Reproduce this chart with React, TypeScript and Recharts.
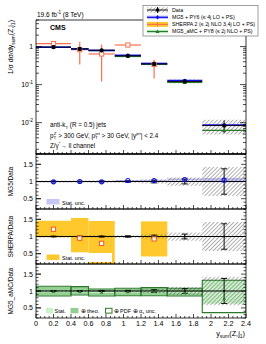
import React from "react";
import {
  ComposedChart,
  Scatter,
  XAxis,
  YAxis,
  ErrorBar,
  ReferenceArea,
  ReferenceLine,
} from "recharts";

const FONT = '"Liberation Sans", Arial, Helvetica, sans-serif';

// binning in y_sum(Z,j1)
const binLow = [0, 0.4, 0.6, 0.9, 1.2, 1.5, 1.9];
const binHigh = [0.4, 0.6, 0.9, 1.2, 1.5, 1.9, 2.4];
const binCenter = [0.2, 0.5, 0.75, 1.05, 1.35, 1.7, 2.15];

// measured 1/sigma dsigma/dy (relative uncertainties)
const dataXs = [0.97, 0.87, 0.8, 0.57, 0.35, 0.121, 0.0084];
const dataStatRel = [0.01, 0.01, 0.015, 0.02, 0.04, 0.07, 0.37];
const dataTotRel = [0.03, 0.03, 0.035, 0.04, 0.06, 0.12, 0.42];

// MG5 + PY6
const mg5Xs = [0.96, 0.87, 0.79, 0.59, 0.36, 0.128, 0.0087];
const mg5Ratio = [0.99, 1.0, 0.99, 1.03, 1.03, 1.06, 1.04];
const mg5RatioStat = [0.012, 0.012, 0.012, 0.015, 0.02, 0.03, 0.06];

// SHERPA 2
const sherpaXs = [1.2, 0.83, 0.64, 1.1, 0.34, null, null];
const sherpaLow = [1.17, 0.34, 0.12, 1.08, 0.144, null, null];
const sherpaHigh = [1.23, 1.35, 1.13, 1.12, 0.45, null, null];
const sherpaRatio = [1.21, 0.95, 0.8, null, 0.93, null, null];
const sherpaRatioLow = [0.98, 0.54, 0.15, null, 0.42, null, null];
const sherpaRatioHigh = [1.46, 1.54, 1.45, null, 1.44, null, null];

// MG5_aMC + PY8
const amcXs = [0.95, 0.86, 0.79, 0.55, 0.34, 0.114, 0.0063];
const amcRatio = [0.98, 0.98, 0.96, 0.97, 0.98, 0.95, 0.77];
const amcStatLow = [0.96, 0.96, 0.94, 0.95, 0.96, 0.93, 0.64];
const amcStatHigh = [1.0, 1.0, 0.98, 0.99, 1.0, 0.97, 1.32];
const amcTheoLow = [0.86, 0.89, 0.86, 0.87, 0.87, 0.86, 0.64];
const amcTheoHigh = [1.13, 1.12, 1.05, 1.07, 1.09, 1.07, 1.32];
const amcPdfLow = [0.85, 0.88, 0.85, 0.86, 0.86, 0.85, 0.36];
const amcPdfHigh = [1.14, 1.13, 1.06, 1.08, 1.1, 1.08, 1.32];

// axes
const xMajorTicks = [0, 0.2, 0.4, 0.6, 0.8, 1, 1.2, 1.4, 1.6, 1.8, 2, 2.2, 2.4];
const xTickLabels = ["0", "0.2", "0.4", "0.6", "0.8", "1", "1.2", "1.4", "1.6", "1.8", "2", "2.2", "2.4"];
const logMajorTicks = [0.01, 0.1, 1];
const logTickExp = ["-2", "-1", ""];
const ratioMajorTicks = [0.5, 1, 1.5];
const ratioTickLabels = ["0.5", "1", "1.5"];
const LOG_DOMAIN = [0.0015, 5];
const RATIO_DOMAIN = [0.2, 1.8];

const xTicks: number[] = [];
for (let i = 0; i <= 48; i++) xTicks.push(Math.round(i * 5) / 100);
const logTicks: number[] = [];
[0.001, 0.01, 0.1, 1].forEach((d) => {
  for (let k = 1; k <= 9; k++) {
    const v = +(d * k).toPrecision(3);
    if (v >= LOG_DOMAIN[0] && v <= LOG_DOMAIN[1]) logTicks.push(v);
  }
});
const ratioTicks: number[] = [];
for (let i = 2; i <= 18; i++) ratioTicks.push(i / 10);

const BLUE = "#1010ee";
const BLUE_BAND = "#c6c6f5";
const SHERPA_LINE = "#ff6e4e";
const SHERPA_BAND = "#ffc82c";
const GREEN = "#2b7a2b";
const GREEN_THEO = "#93cf93";
const GREEN_STAT = "#c9f2c9";

const findTick = (arr: number[], v: any) => arr.findIndex((t) => Math.abs(t - Number(v)) < 1e-3);

// rows
const xErr = (i: number) => [binCenter[i] - binLow[i], binHigh[i] - binCenter[i]];
const dataMain = binCenter.map((x, i) => ({
  x,
  y: dataXs[i],
  ex: xErr(i),
  ey: [dataXs[i] * dataStatRel[i], dataXs[i] * dataStatRel[i]],
}));
const mg5Main = binCenter.map((x, i) => ({ x, y: mg5Xs[i], ex: xErr(i) }));
const amcMain = binCenter.map((x, i) => ({ x, y: amcXs[i], ex: xErr(i) }));
const sherpaMain = binCenter
  .map((x, i) =>
    sherpaXs[i] == null
      ? null
      : {
          x,
          y: sherpaXs[i] as number,
          ex: xErr(i),
          ey: [(sherpaXs[i] as number) - (sherpaLow[i] as number), (sherpaHigh[i] as number) - (sherpaXs[i] as number)],
        }
  )
  .filter(Boolean) as any[];

const dataRatioRows = binCenter.map((x, i) => ({ x, y: 1, ey: [dataStatRel[i], dataStatRel[i]] }));
const mg5RatioRows = binCenter.map((x, i) => ({ x, y: mg5Ratio[i] }));
const sherpaRatioRows = binCenter
  .map((x, i) => (sherpaRatio[i] == null ? null : { x, y: sherpaRatio[i] }))
  .filter(Boolean) as any[];
const amcRatioRows = binCenter.map((x, i) => ({ x, y: amcRatio[i] }));

// tick renderers (ticks point into the frame)
const xTickBottom = (labels: boolean) => (p: any) => {
  const idx = findTick(xMajorTicks, p.payload.value);
  const major = idx >= 0;
  return (
    <g>
      <line x1={p.x} x2={p.x} y1={p.y} y2={p.y - (major ? 4 : 2)} stroke="#000" strokeWidth={0.7} />
      {labels && major && (
        <text x={p.x} y={p.y + 7.5} textAnchor="middle" fontSize={7.2} fontFamily={FONT} fill="#000">
          {xTickLabels[idx]}
        </text>
      )}
    </g>
  );
};
const xTickTop = (p: any) => {
  const major = findTick(xMajorTicks, p.payload.value) >= 0;
  return <line x1={p.x} x2={p.x} y1={p.y} y2={p.y + (major ? 4 : 2)} stroke="#000" strokeWidth={0.7} />;
};
const logTickLeft = (p: any) => {
  const idx = findTick(logMajorTicks, p.payload.value);
  const major = idx >= 0;
  return (
    <g>
      <line x1={p.x} x2={p.x + (major ? 6 : 3)} y1={p.y} y2={p.y} stroke="#000" strokeWidth={0.7} />
      {major && (
        <text x={p.x - 3} y={p.y + 2.5} textAnchor="end" fontSize={6.8} fontFamily={FONT} fill="#000">
          {logTickExp[idx] === "" ? (
            "1"
          ) : (
            <>
              <tspan>10</tspan>
              <tspan fontSize={4.8} dy={-3}>
                {logTickExp[idx]}
              </tspan>
            </>
          )}
        </text>
      )}
    </g>
  );
};
const logTickRight = (p: any) => {
  const major = findTick(logMajorTicks, p.payload.value) >= 0;
  return <line x1={p.x} x2={p.x - (major ? 6 : 3)} y1={p.y} y2={p.y} stroke="#000" strokeWidth={0.7} />;
};
// ratio axes: tick lines only, labels are added in the overlay (recharts drops them here)
const ratioTickLeft = (p: any) => {
  const major = findTick(ratioMajorTicks, p.payload.value) >= 0;
  return <line x1={p.x} x2={p.x + (major ? 5 : 2.5)} y1={p.y} y2={p.y} stroke="#000" strokeWidth={0.7} />;
};
const ratioTickRight = (p: any) => {
  const major = findTick(ratioMajorTicks, p.payload.value) >= 0;
  return <line x1={p.x} x2={p.x - (major ? 5 : 2.5)} y1={p.y} y2={p.y} stroke="#000" strokeWidth={0.7} />;
};

const keepAll = { interval: 0, minTickGap: -1000, tickFormatter: () => "" } as any;

// axes of 1px thickness (0 makes recharts skip them)
function axes(log: boolean, xLabels: boolean, bottomWidth = 0.8) {
  const line = { stroke: "#000", strokeWidth: 0.8 };
  const ydom = log ? LOG_DOMAIN : RATIO_DOMAIN;
  const yt = log ? logTicks : ratioTicks;
  const scaleProp: any = log ? { scale: "log" } : {};
  return [
    <XAxis key="xb" xAxisId={0} type="number" dataKey="x" domain={[0, 2.4]} allowDataOverflow ticks={xTicks} {...keepAll}
      height={1} tickSize={0} tickMargin={0} tickLine={false} axisLine={{ stroke: "#000", strokeWidth: bottomWidth }}
      tick={xTickBottom(xLabels)} />,
    <XAxis key="xt" xAxisId="t" orientation="top" type="number" domain={[0, 2.4]} allowDataOverflow ticks={xTicks}
      {...keepAll} height={1} tickSize={0} tickMargin={0} tickLine={false} axisLine={line} tick={xTickTop} />,
    <YAxis key="yl" yAxisId={0} type="number" dataKey="y" {...scaleProp} domain={ydom} allowDataOverflow ticks={yt}
      {...keepAll} width={36} tickSize={0} tickMargin={0} tickLine={false} axisLine={line}
      tick={log ? logTickLeft : ratioTickLeft} />,
    <YAxis key="yr" yAxisId="r" orientation="right" type="number" {...scaleProp} domain={ydom} allowDataOverflow
      ticks={yt} {...keepAll} width={1} tickSize={0} tickMargin={0} tickLine={false} axisLine={line}
      tick={log ? logTickRight : ratioTickRight} />,
  ];
}

const dot = (r: number, fill: string, stroke = fill, sw = 0) => (p: any) => (
  <circle cx={p.cx} cy={p.cy} r={r} fill={fill} stroke={stroke} strokeWidth={sw} />
);
const square = (s: number, color: string) => (p: any) => (
  <rect x={p.cx - s / 2} y={p.cy - s / 2} width={s} height={s} fill="#fff" stroke={color} strokeWidth={1} />
);
const tri = (s: number, color: string) => (p: any) => (
  <path d={`M${p.cx},${p.cy - s} L${p.cx + s},${p.cy + s * 0.75} L${p.cx - s},${p.cy + s * 0.75} Z`} fill={color} />
);

const W = 266;
const H = 344;
const PLOT_LEFT = 36;
const RATIO_PANELS = [
  [154, 209],
  [209, 264],
  [264, 318],
];
const layer: React.CSSProperties = { position: "absolute", left: 0, top: 0 };
const margin = (top: number, bottom: number) => ({ top: top - 1, right: 19, bottom: H - bottom - 1, left: 0 });

function MainPanel() {
  return (
    <div style={layer}>
      <ComposedChart width={W} height={H} margin={margin(20, 154)}>
        {axes(true, false, 1.6)}
        {binCenter.map((_, i) => (
          <ReferenceArea key={"h" + i} x1={binLow[i]} x2={binHigh[i]} y1={dataXs[i] * (1 - dataTotRel[i])}
            y2={dataXs[i] * (1 + dataTotRel[i])} fill="url(#hatch)" fillOpacity={1} stroke="none" ifOverflow="hidden" />
        ))}
        <Scatter data={sherpaMain} dataKey="y" isAnimationActive={false} shape={square(4.2, SHERPA_LINE)}>
          <ErrorBar dataKey="ex" direction="x" width={0} stroke={SHERPA_LINE} strokeWidth={1.2} isAnimationActive={false} />
          <ErrorBar dataKey="ey" direction="y" width={0} stroke={SHERPA_LINE} strokeWidth={1.2} isAnimationActive={false} />
        </Scatter>
        <Scatter data={amcMain} dataKey="y" isAnimationActive={false} shape={tri(2.2, GREEN)}>
          <ErrorBar dataKey="ex" direction="x" width={0} stroke={GREEN} strokeWidth={1.3} isAnimationActive={false} />
        </Scatter>
        <Scatter data={mg5Main} dataKey="y" isAnimationActive={false} shape={dot(1.8, BLUE)}>
          <ErrorBar dataKey="ex" direction="x" width={0} stroke={BLUE} strokeWidth={1.6} isAnimationActive={false} />
        </Scatter>
        <Scatter data={dataMain} dataKey="y" isAnimationActive={false} shape={dot(2.1, "#000")}>
          <ErrorBar dataKey="ex" direction="x" width={0} stroke="#000" strokeWidth={0.9} isAnimationActive={false} />
          <ErrorBar dataKey="ey" direction="y" width={0} stroke="#000" strokeWidth={0.9} isAnimationActive={false} />
        </Scatter>
      </ComposedChart>
    </div>
  );
}

function dataRatioLayer(key: string) {
  return [
    ...binCenter.map((_, i) => (
      <ReferenceArea key={key + "h" + i} x1={binLow[i]} x2={binHigh[i]} y1={1 - dataTotRel[i]} y2={1 + dataTotRel[i]}
        fill="url(#hatch)" fillOpacity={1} stroke="none" ifOverflow="hidden" />
    )),
    <ReferenceLine key={key + "one"} y={1} stroke="#000" strokeWidth={1} />,
    <Scatter key={key + "d"} data={dataRatioRows} dataKey="y" isAnimationActive={false} shape={dot(1, "#000")}>
      <ErrorBar dataKey="ey" direction="y" width={3} stroke="#000" strokeWidth={0.9} isAnimationActive={false} />
    </Scatter>,
  ];
}

function Mg5Panel() {
  return (
    <div style={layer}>
      <ComposedChart width={W} height={H} margin={margin(154, 209)}>
        {axes(false, false)}
        {binCenter.map((_, i) => (
          <ReferenceArea key={"b" + i} x1={binLow[i]} x2={binHigh[i]} y1={mg5Ratio[i] - mg5RatioStat[i]}
            y2={mg5Ratio[i] + mg5RatioStat[i]} fill={BLUE_BAND} fillOpacity={1} stroke="none" ifOverflow="hidden" />
        ))}
        {dataRatioLayer("m")}
        <Scatter data={mg5RatioRows} dataKey="y" isAnimationActive={false} shape={dot(2, "none", BLUE, 1.1)} />
      </ComposedChart>
    </div>
  );
}

function SherpaPanel() {
  return (
    <div style={layer}>
      <ComposedChart width={W} height={H} margin={margin(209, 264)}>
        {axes(false, false)}
        {binCenter.map((_, i) =>
          sherpaRatio[i] == null ? null : (
            <ReferenceArea key={"b" + i} x1={binLow[i]} x2={binHigh[i]} y1={sherpaRatioLow[i] as number}
              y2={sherpaRatioHigh[i] as number} fill={SHERPA_BAND} fillOpacity={1} stroke="none" ifOverflow="hidden" />
          )
        )}
        {dataRatioLayer("s")}
        <Scatter data={sherpaRatioRows} dataKey="y" isAnimationActive={false} shape={square(4.2, "#f05a28")} />
      </ComposedChart>
    </div>
  );
}

function AmcPanel() {
  return (
    <div style={layer}>
      <ComposedChart width={W} height={H} margin={margin(264, 318)}>
        {axes(false, true)}
        {binCenter.map((_, i) => (
          <ReferenceArea key={"t" + i} x1={binLow[i]} x2={binHigh[i]} y1={amcTheoLow[i]} y2={amcTheoHigh[i]}
            fill={GREEN_THEO} fillOpacity={1} stroke="none" ifOverflow="hidden" />
        ))}
        {binCenter.map((_, i) => (
          <ReferenceArea key={"s" + i} x1={binLow[i]} x2={binHigh[i]} y1={amcStatLow[i]} y2={amcStatHigh[i]}
            fill={GREEN_STAT} fillOpacity={1} stroke="none" ifOverflow="hidden" />
        ))}
        {binCenter.map((_, i) => (
          <ReferenceArea key={"p" + i} x1={binLow[i]} x2={binHigh[i]} y1={amcPdfLow[i]} y2={amcPdfHigh[i]}
            fill="none" fillOpacity={0} stroke={GREEN} strokeWidth={1.1} ifOverflow="hidden" />
        ))}
        {dataRatioLayer("a")}
        <Scatter data={amcRatioRows} dataKey="y" isAnimationActive={false} shape={tri(1.8, GREEN)} />
      </ComposedChart>
    </div>
  );
}

// ratio tick labels, placed with the same linear mapping as the ratio axes
function RatioTickLabels() {
  const [d0, d1] = RATIO_DOMAIN;
  return (
    <>
      {RATIO_PANELS.map(([top, bottom], p) =>
        ratioMajorTicks.map((v, i) => {
          const y = top + ((d1 - v) / (d1 - d0)) * (bottom - top);
          return (
            <g key={p + "-" + i}>
              <line x1={PLOT_LEFT} x2={PLOT_LEFT + 5} y1={y} y2={y} stroke="#000" strokeWidth={0.7} />
              <text x={PLOT_LEFT - 3} y={y + 2.5} textAnchor="end" fontSize={7} fontFamily={FONT} fill="#000">
                {ratioTickLabels[i]}
              </text>
            </g>
          );
        })
      )}
    </>
  );
}

function Overlay() {
  const t = { fontFamily: FONT, fill: "#000" } as any;
  const rows = [10, 17.3, 24.4, 31.5];
  const sx0 = 147;
  const sx1 = 168;
  const sc = (sx0 + sx1) / 2;
  return (
    <svg width={W} height={H} style={{ ...layer, pointerEvents: "none" }}>
      <text x={37} y={16.8} fontSize={6.5} {...t}>
        19.6 fb<tspan fontSize={4.6} dy={-2.8}>-1</tspan>
        <tspan dy={2.8}> (8 TeV)</tspan>
      </text>
      <text x={50} y={29.5} fontSize={7} fontWeight="bold" {...t}>CMS</text>

      {/* legend */}
      <rect x={143} y={5.5} width={115} height={30.5} fill="#fff" stroke="#777" strokeWidth={0.7} />
      <rect x={sx0} y={rows[0] - 2.6} width={sx1 - sx0} height={5.2} fill="url(#hatch)" />
      <line x1={sx0} x2={sx1} y1={rows[0]} y2={rows[0]} stroke="#000" strokeWidth={0.9} />
      <line x1={sc} x2={sc} y1={rows[0] - 3} y2={rows[0] + 3} stroke="#000" strokeWidth={0.9} />
      <circle cx={sc} cy={rows[0]} r={1.8} fill="#000" />
      <rect x={sx0} y={rows[1] - 1.8} width={sx1 - sx0} height={3.6} fill={BLUE_BAND} />
      <line x1={sx0} x2={sx1} y1={rows[1]} y2={rows[1]} stroke={BLUE} strokeWidth={1.3} />
      <line x1={sc} x2={sc} y1={rows[1] - 2} y2={rows[1] + 2} stroke={BLUE} strokeWidth={0.9} />
      <circle cx={sc} cy={rows[1]} r={1.5} fill={BLUE} />
      <rect x={sx0} y={rows[2] - 2.5} width={sx1 - sx0} height={5} fill={SHERPA_BAND} />
      <line x1={sx0} x2={sx1} y1={rows[2]} y2={rows[2]} stroke={SHERPA_LINE} strokeWidth={1.2} />
      <line x1={sc} x2={sc} y1={rows[2] - 2.5} y2={rows[2] + 2.5} stroke={SHERPA_LINE} strokeWidth={0.9} />
      <rect x={sx0} y={rows[3] - 1.8} width={sx1 - sx0} height={3.6} fill={GREEN_STAT} />
      <line x1={sx0} x2={sx1} y1={rows[3]} y2={rows[3]} stroke={GREEN} strokeWidth={1.2} />
      <path d={`M${sc},${rows[3] - 2} L${sc + 2},${rows[3] + 1.5} L${sc - 2},${rows[3] + 1.5} Z`} fill={GREEN} />
      <text x={172} y={rows[0] + 1.9} fontSize={5.3} {...t}>Data</text>
      <text x={172} y={rows[1] + 1.9} fontSize={5.3} {...t}>MG5 + PY6 (≤ 4j LO + PS)</text>
      <text x={172} y={rows[2] + 1.9} fontSize={5.3} {...t}>SHERPA 2 (≤ 2j NLO 3,4j LO + PS)</text>
      <text x={172} y={rows[3] + 1.9} fontSize={5.3} {...t}>MG5_aMC + PY8 (≤ 2j NLO + PS)</text>

      {/* selection text */}
      <text x={50} y={127} fontSize={6.3} {...t}>
        anti-k<tspan fontSize={4.4} dy={1.6}>T</tspan>
        <tspan dy={-1.6}> (R = 0.5) jets</tspan>
      </text>
      <text x={50} y={137.5} fontSize={6.3} {...t}>
        p<tspan fontSize={4.4} dy={1.6}>T</tspan>
        <tspan fontSize={4.4} dy={-4.4} dx={-2.4}>Z</tspan>
        <tspan dy={2.8}> &gt; 300 GeV, p</tspan>
        <tspan fontSize={4.4} dy={1.6}>T</tspan>
        <tspan fontSize={4.4} dy={-4.4} dx={-2.4}>jet</tspan>
        <tspan dy={2.8}> &gt; 30 GeV, |y</tspan>
        <tspan fontSize={4.4} dy={-2.8}>jet</tspan>
        <tspan dy={2.8}>| &lt; 2.4</tspan>
      </text>
      <text x={50} y={147.5} fontSize={6.3} {...t}>
        Z/γ<tspan fontSize={4.4} dy={-2.8}>*</tspan>
        <tspan dy={2.8}>→ ll channel</tspan>
      </text>

      {/* ratio legends */}
      <rect x={46.5} y={199} width={13} height={5.5} fill={BLUE_BAND} />
      <text x={62} y={204.5} fontSize={5.5} {...t}>Stat. unc.</text>
      <rect x={44} y={253} width={68} height={9} fill="#fff" />
      <rect x={46.5} y={254.5} width={13} height={5.5} fill={SHERPA_BAND} />
      <text x={62} y={260} fontSize={5.5} {...t}>Stat. unc.</text>
      <rect x={46} y={308} width={7} height={5.3} fill={GREEN_STAT} />
      <text x={54.5} y={313} fontSize={5.5} {...t}>Stat.</text>
      <rect x={70.5} y={308} width={8} height={5.3} fill={GREEN_THEO} />
      <text x={80.5} y={313} fontSize={5.5} {...t}>⊕ theo.</text>
      <rect x={105.5} y={308.3} width={6.5} height={4.8} fill="#fff" stroke={GREEN} strokeWidth={1} />
      <text x={113.5} y={313} fontSize={5.5} {...t}>
        ⊕ PDF ⊕ α<tspan fontSize={3.9} dy={1.4}>s</tspan>
        <tspan dy={-1.4}> unc.</tspan>
      </text>

      <RatioTickLabels />

      {/* axis titles */}
      <text transform="rotate(-90)" x={-20} y={13} textAnchor="end" fontSize={7} {...t}>
        1/σ dσ/dy<tspan fontSize={5} dy={1.8}>sum</tspan>
        <tspan dy={-1.8}>(Z,j</tspan>
        <tspan fontSize={5} dy={1.8}>1</tspan>
        <tspan dy={-1.8}>)</tspan>
      </text>
      <text transform="rotate(-90)" x={-181.5} y={13} textAnchor="middle" fontSize={6.5} {...t}>MG5/Data</text>
      <text transform="rotate(-90)" x={-236.5} y={13} textAnchor="middle" fontSize={6.5} {...t}>SHERPA/Data</text>
      <text transform="rotate(-90)" x={-291} y={13} textAnchor="middle" fontSize={6.5} {...t}>MG5_aMC/Data</text>
      <text x={245} y={335.5} textAnchor="end" fontSize={7.3} {...t}>
        y<tspan fontSize={5} dy={2}>sum</tspan>
        <tspan dy={-2}>(Z,j</tspan>
        <tspan fontSize={5} dy={2}>1</tspan>
        <tspan dy={-2}>)</tspan>
      </text>
    </svg>
  );
}

export default function App() {
  return (
    <div style={{ position: "absolute", left: 0, top: 0, width: W, height: H, background: "#fff", overflow: "hidden" }}>
      <svg width={0} height={0} style={{ position: "absolute" }}>
        <defs>
          <pattern id="hatch" patternUnits="userSpaceOnUse" width={2.8} height={2.8} patternTransform="rotate(45)">
            <line x1={0} y1={0} x2={0} y2={2.8} stroke="#3a3a3a" strokeWidth={0.8} />
          </pattern>
        </defs>
      </svg>
      <MainPanel />
      <Mg5Panel />
      <SherpaPanel />
      <AmcPanel />
      <Overlay />
    </div>
  );
}
